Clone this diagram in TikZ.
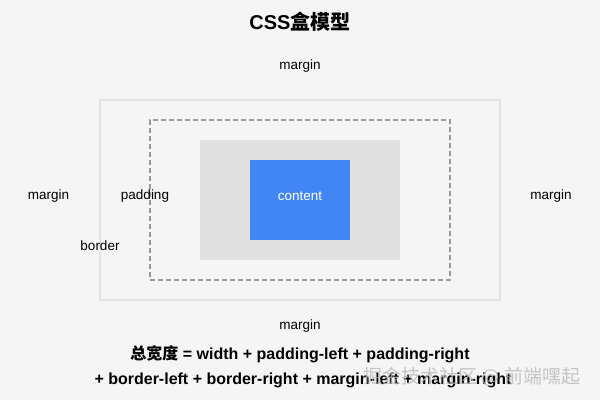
\documentclass[tikz,border=0pt]{standalone}
\usepackage{fontspec}
\setmainfont{Liberation Sans}
\newfontfamily\cjk{Noto Sans CJK SC}
\newfontfamily\cjkb{Noto Sans CJK SC Bold}
\definecolor{bgc}{HTML}{F5F5F5}
\definecolor{marginline}{HTML}{E4E4E4}
\definecolor{dashc}{HTML}{999999}
\definecolor{padc}{HTML}{E0E0E0}
\definecolor{contentc}{HTML}{4285F4}
\definecolor{wmc}{HTML}{B8B8B8}
\tikzset{
  lbl/.style={font=\fontsize{13.5}{16}\selectfont, text=black, inner sep=0pt},
  formula/.style={font=\fontsize{16}{19}\selectfont\bfseries, text=black, inner sep=0pt},
  marginbox/.style={draw=marginline, line width=1.5pt, fill=bgc, inner sep=0pt},
  borderbox/.style={draw=dashc, line width=1.6pt, dash pattern=on 5pt off 3pt, inner sep=0pt},
  paddingbox/.style={fill=padc, inner sep=0pt},
  contentbox/.style={fill=contentc, inner sep=0pt},
  contentlbl/.style={inner sep=0pt, text=white, font=\fontsize{13.5}{16}\selectfont},
}
\begin{document}
\begin{tikzpicture}[x=1pt,y=-1pt]
\fill[bgc] (0,0) rectangle (600,400);
\useasboundingbox (0,0) rectangle (600,400);
% title
\node[inner sep=0pt, font=\fontsize{20}{24}\selectfont\bfseries] (title) at (300,22) {CSS{\cjkb 盒模型}};
% boxes
\node[marginbox, minimum width=400pt, minimum height=200pt] (mbox) at (300,200) {};
\node[borderbox, minimum width=300pt, minimum height=160pt] (bbox) at (300,200) {};
\node[paddingbox, minimum width=200pt, minimum height=120pt] (pbox) at (300,200) {};
\node[contentbox, minimum width=100pt, minimum height=80pt] (cbox) at (300,200) {};
\node[contentlbl] (ctext) at (300,196) {content};
% labels
\node[lbl] (mtop) at (300,66) {margin};
\node[lbl] (mleft) at (48.5,196.5) {margin};
\node[lbl] (mright) at (551,196.5) {margin};
\node[lbl] (mbottom) at (300,326) {margin};
\node[lbl] (plbl) at (145,196.5) {padding};
\node[lbl] (blbl) at (100,246) {border};
% formula
\node[formula] (f1) at (300,354) {{\cjkb 总宽度} = width + padding-left + padding-right};
\node[formula] (f2) at (303,380) {+ border-left + border-right + margin-left + margin-right};
% watermark
\node[inner sep=0pt, text=wmc, opacity=0.8, font=\cjk\fontsize{19}{22}\selectfont] (wm) at (472,377) {掘金技术社区 @ 前端嘿起};
\end{tikzpicture}
\end{document}
